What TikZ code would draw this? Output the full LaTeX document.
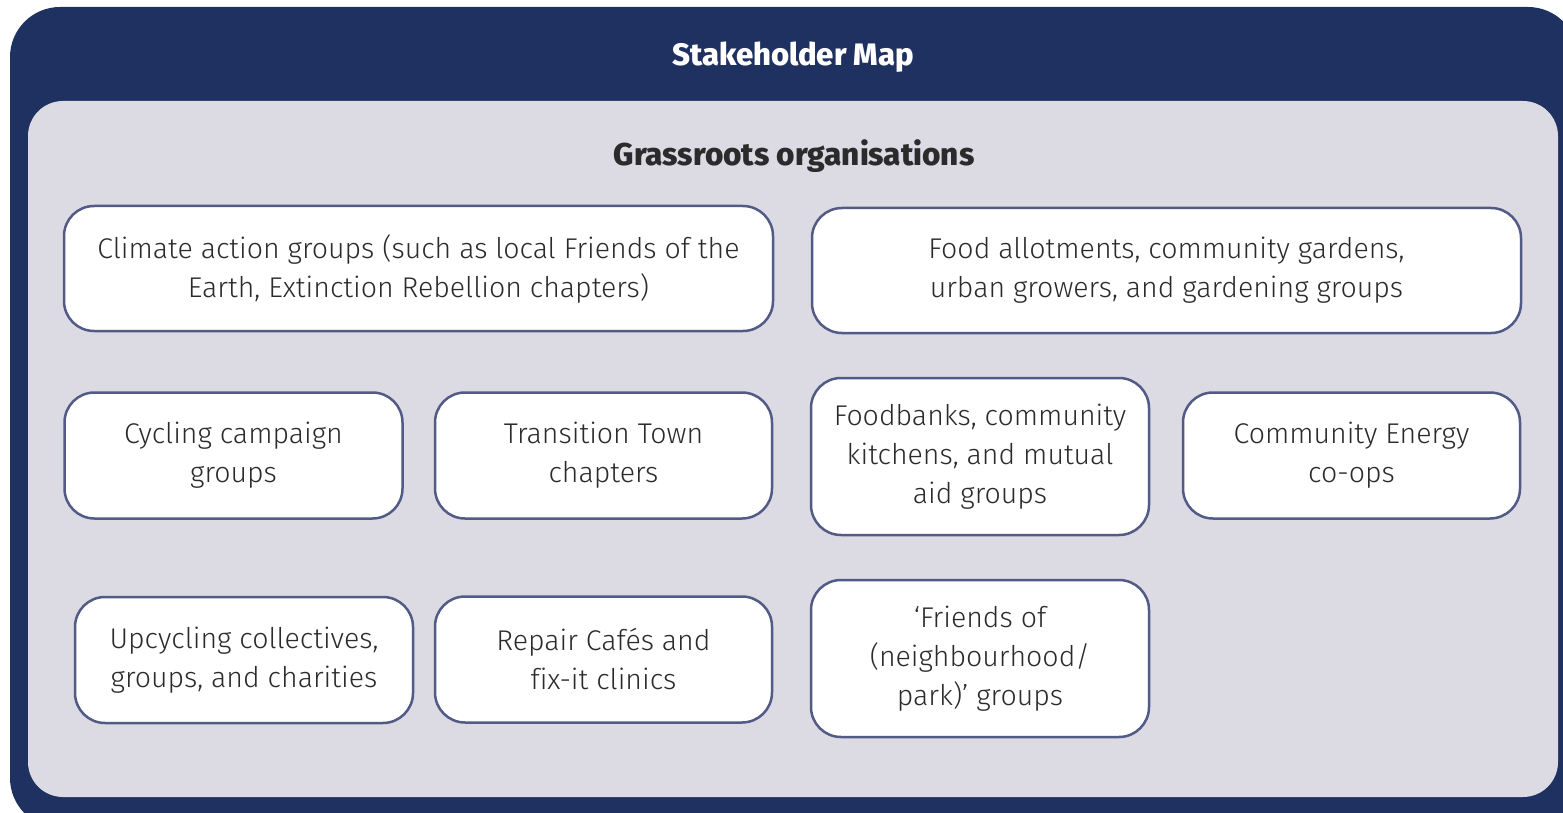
\documentclass[tikz,border=0pt]{standalone}
\usepackage{fontspec}
\setmainfont{Fira Sans Light}[BoldFont=Fira Sans ExtraBold, Ligatures=NoCommon]
\definecolor{navy}{HTML}{1F3160}
\definecolor{panel}{HTML}{DCDBE4}
\definecolor{rim}{HTML}{525A85}
\definecolor{ink}{HTML}{2B2B2B}
\tikzset{
  orgbox/.style={draw=rim, line width=2.5, fill=white, rounded corners=30,
    align=center, text=ink, inner sep=0pt,
    font=\fontsize{28.5}{39}\selectfont},
}
\begin{document}
\begin{tikzpicture}[x=1pt,y=-1pt]
\useasboundingbox (0,0) rectangle (1563,813);
\clip (0,0) rectangle (1563,813);
\fill[navy, rounded corners=50] (10,7) rectangle (1578,828);
\fill[panel, rounded corners=35] (28,101) rectangle (1558,797);
\node[text=white, font=\bfseries\fontsize{31}{36}\selectfont] (title) at (793,57) {Stakeholder Map};
\node[text=ink, font=\bfseries\fontsize{31.5}{36}\selectfont] (group) at (794,156) {Grassroots organisations};
% first row
\node[orgbox, minimum width=709, minimum height=125] (climate) at (418.5,268.5) {Climate action groups (such as local Friends of the\\Earth, Extinction Rebellion chapters)};
\node[orgbox, minimum width=709, minimum height=125] (food) at (1166.5,270.5) {Food allotments, community gardens,\\urban growers, and gardening groups};
% second row
\node[orgbox, minimum width=338, minimum height=126] (cycling) at (233.5,455.5) {Cycling campaign\\groups};
\node[orgbox, minimum width=337, minimum height=126] (transition) at (603.5,455.5) {Transition Town\\chapters};
\node[orgbox, minimum width=338, minimum height=157] (foodbank) at (980,456.5) {Foodbanks, community\\kitchens, and mutual\\aid groups};
\node[orgbox, minimum width=337, minimum height=126] (energy) at (1351.5,455.5) {Community Energy\\co-ops};
% third row
\node[orgbox, minimum width=338, minimum height=126] (upcycling) at (244,660) {Upcycling collectives,\\groups, and charities};
\node[orgbox, minimum width=337, minimum height=126] (repair) at (603.5,659.5) {Repair Cafés and\\fix-it clinics};
\node[orgbox, minimum width=338, minimum height=157] (friends) at (980,658.5) {‘Friends of\\(neighbourhood/\\park)’ groups};
\end{tikzpicture}
\end{document}
